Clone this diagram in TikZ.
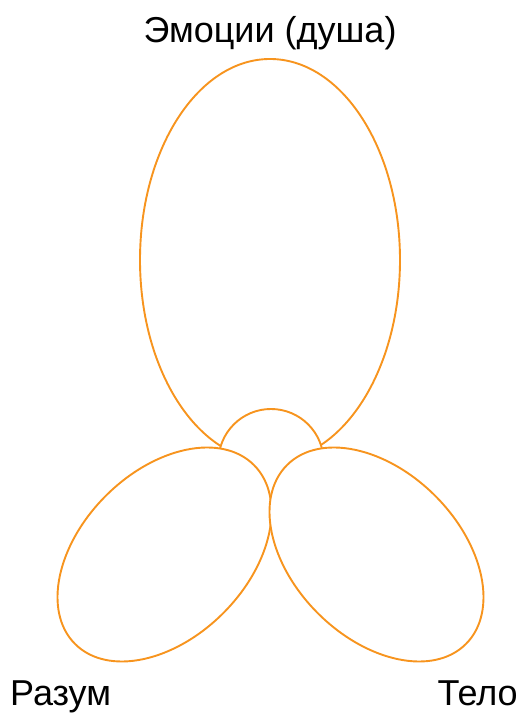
\documentclass[tikz,border=0pt]{standalone}
\usepackage{fontspec}
\setmainfont{Liberation Sans}
\definecolor{lobe}{RGB}{247,148,30}
\begin{document}
\begin{tikzpicture}[x=1pt,y=1pt,
  lobeline/.style={draw=lobe,line width=1.9pt,fill=white},
  lbl/.style={inner sep=0pt,font=\fontsize{36}{40}\selectfont}]
\useasboundingbox (0,0) rectangle (521,713);
\path[lobeline] (270,453) ellipse [x radius=130,y radius=201];
\path[lobeline] (271,251.4) circle [radius=52.6];
\path[lobeline] (164.5,158.5) ellipse [x radius=126.5,y radius=83,rotate=45];
\path[lobeline] (376.5,158.5) ellipse [x radius=126.5,y radius=83,rotate=-45];
\node[lbl,anchor=base] (emo) at (270,670) {Эмоции (душа)};
\node[lbl,anchor=base west] (razum) at (10,8) {Разум};
\node[lbl,anchor=base east] (telo) at (518,8) {Тело};
\end{tikzpicture}
\end{document}
